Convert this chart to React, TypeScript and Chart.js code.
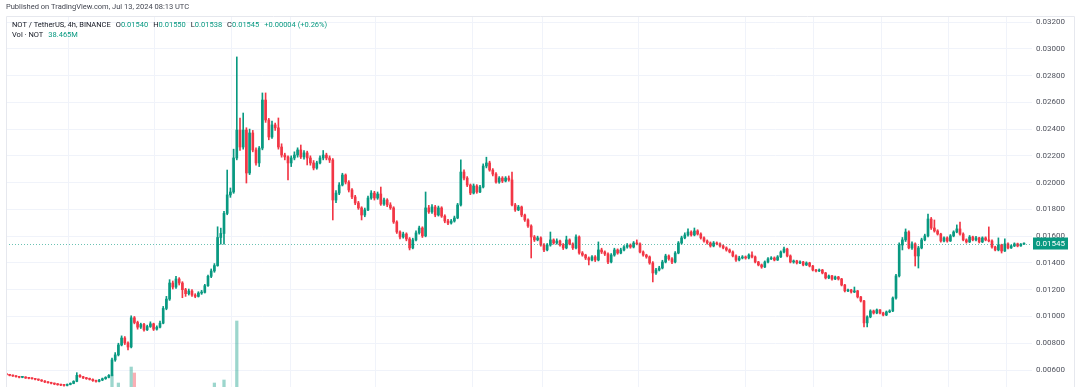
import React, { useEffect, useRef } from "react";
import { Chart, registerables } from "chart.js";
Chart.register(...registerables);

// ---- data (prices in units of 0.00001 USDT) ----
const PRICE_UNIT = 0.00001;
const firstOpen = 575;
const closes = [
  570,565,560,555,550,545,548,540,538,535,
  530,525,518,510,505,500,495,490,487,485,
  492,500,515,560,550,540,535,530,520,515,
  525,535,545,560,675,713,787,839,802,772,
  990,955,920,940,900,925,945,905,920,950,
  1060,1130,1250,1220,1280,1250,1200,1170,1190,1160,
  1150,1175,1180,1230,1300,1340,1380,1590,1620,1770,
  1908,1930,2184,2393,2266,2393,2072,2371,2244,2147,
  2258,2617,2468,2341,2431,2409,2266,2206,2192,2147,
  2184,2206,2244,2192,2222,2184,2147,2109,2147,2184,
  2206,2184,2169,1870,1922,1982,2057,2004,1945,1893,
  1848,1811,1758,1796,1885,1922,1885,1915,1840,1870,
  1833,1811,1706,1631,1594,1616,1579,1512,1572,1624,
  1661,1602,1811,1781,1818,1758,1811,1750,1713,1698,
  1713,1736,1833,2079,2034,1982,1922,1975,1930,1967,
  2124,2147,2094,2064,2004,2034,2012,2034,2020,1833,
  1796,1818,1758,1721,1676,1594,1572,1587,1534,1497,
  1534,1572,1549,1564,1534,1512,1572,1542,1512,1594,
  1474,1459,1437,1422,1445,1422,1497,1482,1467,1407,
  1459,1497,1474,1497,1519,1534,1519,1549,1542,1482,
  1459,1445,1400,1325,1347,1362,1407,1452,1430,1407,
  1474,1549,1587,1609,1631,1609,1639,1616,1587,1564,
  1549,1527,1549,1542,1527,1512,1497,1482,1452,1422,
  1437,1445,1437,1459,1445,1407,1385,1370,1407,1430,
  1437,1422,1445,1482,1504,1452,1407,1415,1400,1407,
  1385,1400,1377,1347,1340,1347,1325,1288,1303,1280,
  1295,1280,1235,1191,1198,1183,1191,1146,1116,952,
  997,1041,1026,1049,1026,1011,1034,1041,1138,1303,
  1534,1572,1631,1512,1542,1452,1512,1572,1602,1728,
  1661,1639,1616,1564,1587,1564,1602,1631,1654,1616,
  1572,1557,1594,1572,1587,1557,1587,1572,1564,1519,
  1497,1534,1489,1542,1512,1527,1542,1527,1540,1545,
];
const highs = [
  580,573,568,563,558,553,552,550,543,541,
  538,533,528,521,514,509,503,499,494,492,
  496,504,520,580,565,553,545,540,534,525,
  530,540,550,566,690,730,800,855,850,810,
  1005,1000,965,950,948,935,960,950,930,965,
  1075,1150,1275,1265,1300,1290,1260,1210,1205,1200,
  1170,1185,1195,1240,1310,1355,1395,1670,1660,1785,
  2094,1960,2250,2939,2483,2520,2410,2400,2390,2260,
  2270,2670,2670,2480,2460,2445,2483,2290,2220,2200,
  2200,2230,2260,2281,2240,2235,2200,2165,2160,2200,
  2240,2220,2200,2180,1940,2000,2070,2065,2015,1955,
  1905,1860,1820,1810,1900,1940,1935,1930,1967,1885,
  1880,1850,1820,1715,1640,1630,1625,1590,1585,1640,
  1675,1670,1930,1830,1835,1830,1825,1820,1760,1725,
  1725,1750,1845,2170,2095,2045,1990,1990,1985,1980,
  2140,2190,2160,2105,2075,2045,2045,2045,2050,2079,
  1845,1830,1825,1765,1730,1685,1605,1600,1595,1545,
  1545,1631,1580,1580,1570,1545,1600,1580,1550,1610,
  1602,1485,1465,1445,1455,1455,1557,1510,1490,1475,
  1470,1510,1505,1510,1530,1545,1542,1560,1572,1550,
  1490,1465,1452,1410,1360,1375,1420,1465,1460,1440,
  1485,1560,1600,1625,1654,1640,1661,1648,1625,1595,
  1572,1557,1560,1557,1550,1535,1520,1505,1490,1460,
  1450,1455,1452,1468,1482,1452,1412,1392,1415,1440,
  1447,1445,1455,1490,1519,1510,1460,1422,1420,1415,
  1412,1408,1405,1382,1352,1355,1352,1330,1310,1308,
  1302,1300,1285,1240,1205,1203,1220,1195,1150,1120,
  1005,1050,1048,1056,1052,1032,1041,1050,1146,1315,
  1550,1590,1654,1640,1557,1550,1525,1585,1615,1765,
  1740,1721,1648,1622,1595,1595,1612,1640,1684,1706,
  1625,1580,1605,1600,1598,1592,1595,1595,1669,1572,
  1525,1587,1540,1580,1550,1535,1550,1548,1545,1550,
];
const lows = [
  565,562,556,552,546,541,542,537,534,531,
  526,521,514,506,501,496,490,486,483,480,
  481,489,497,512,545,536,530,525,515,510,
  511,520,530,541,556,665,705,780,790,750,
  765,945,905,910,890,895,918,895,898,915,
  945,1050,1120,1205,1210,1235,1140,1150,1160,1150,
  1140,1145,1165,1175,1225,1290,1330,1375,1540,1540,
  1760,1890,1920,2170,2240,2250,1997,2060,2230,2130,
  2120,2245,2450,2320,2330,2390,2250,2190,2170,2020,
  2120,2170,2190,2180,2175,2132,2130,2095,2100,2140,
  2170,2170,2150,1721,1850,1910,1975,1990,1930,1880,
  1835,1800,1721,1745,1790,1875,1870,1875,1830,1830,
  1820,1800,1695,1620,1580,1585,1565,1497,1505,1565,
  1615,1590,1595,1770,1770,1745,1750,1740,1700,1685,
  1690,1705,1730,1825,2020,1970,1910,1915,1920,1925,
  1960,2110,2085,2050,1995,1995,2000,2005,2010,1825,
  1785,1790,1745,1710,1665,1437,1560,1565,1525,1485,
  1490,1525,1540,1540,1525,1500,1505,1535,1500,1505,
  1465,1450,1425,1385,1415,1410,1415,1470,1455,1395,
  1400,1450,1465,1468,1490,1510,1510,1512,1535,1475,
  1450,1435,1390,1258,1315,1340,1355,1400,1420,1395,
  1400,1468,1540,1580,1600,1600,1602,1608,1578,1555,
  1540,1518,1520,1535,1518,1505,1488,1475,1445,1412,
  1415,1430,1428,1430,1438,1400,1378,1360,1365,1400,
  1425,1415,1418,1440,1475,1445,1400,1398,1392,1395,
  1378,1380,1370,1340,1332,1335,1318,1280,1282,1272,
  1275,1272,1228,1183,1185,1175,1178,1138,1108,922,
  922,990,1018,1020,1019,1004,1006,1028,1036,1130,
  1295,1497,1560,1505,1500,1377,1362,1505,1565,1595,
  1650,1630,1608,1555,1557,1555,1560,1595,1625,1608,
  1565,1548,1552,1565,1565,1549,1552,1565,1557,1510,
  1490,1490,1474,1485,1505,1508,1522,1520,1524,1538,
];
// visible volume bars (candle index, volume in millions NOT)
const volIndex = [34, 36, 40, 41, 66, 69, 73];
const volValues = [1127, 909, 1345, 1182, 909, 991, 2600];

const priceTicks = [0.006, 0.008, 0.01, 0.012, 0.014, 0.016, 0.018, 0.02, 0.022, 0.024, 0.026, 0.028, 0.03, 0.032];
// day-boundary grid lines, in candle-index units
const timeGrid = [8.4, 32.1, 62.4, 80.25, 99, 133.7, 159.6, 177.4, 219.9, 244.3, 262.4, 286.5, 304.6];

const headerText = "Published on TradingView.com, Jul 13, 2024 08:13 UTC";
const symbolText = "NOT / TetherUS, 4h, BINANCE";
const ohlcLetters = ["O", "H", "L", "C"];
const ohlcValues = ["0.01540", "0.01550", "0.01538", "0.01545"];
const changeText = "+0.00004 (+0.26%)";
const volLabel = "Vol · NOT";
const volValueText = "38.465M";
const lastPrice = 0.01545;

const UP = "#089981";
const DN = "#f23645";
const VOL_UP = "rgba(8,153,129,0.4)";
const VOL_DN = "rgba(242,54,69,0.4)";
const GRID = "#f0f3fa";
const FONT = "Roboto, 'Noto Sans', sans-serif";

export default function App() {
  const ref = useRef<HTMLCanvasElement>(null);
  useEffect(() => {
    document.body.style.margin = "0";
    const U = PRICE_UNIT;
    const opens = closes.map((_, i) => (i === 0 ? firstOpen : closes[i - 1]));
    const up = (i: number) => closes[i] >= opens[i];
    const bodyData = closes.map((c, i) => ({ x: i, y: [opens[i] * U, c * U] }));
    const wickData = closes.map((_, i) => ({ x: i, y: [lows[i] * U, highs[i] * U] }));
    const volData = volIndex.map((idx, k) => ({ x: idx, y: volValues[k] }));

    const overlay = {
      id: "tvOverlay",
      beforeDraw(chart: any) {
        const { ctx, width, height } = chart;
        ctx.save();
        ctx.fillStyle = "#ffffff";
        ctx.fillRect(0, 0, width, height);
        ctx.restore();
      },
      afterDatasetsDraw(chart: any) {
        const { ctx, chartArea } = chart;
        const y = Math.round(chart.scales.y.getPixelForValue(lastPrice)) + 0.5;
        ctx.save();
        ctx.strokeStyle = "rgba(8,153,129,0.6)";
        ctx.lineWidth = 1;
        ctx.setLineDash([1, 2]);
        ctx.beginPath();
        ctx.moveTo(chartArea.left, y);
        ctx.lineTo(chartArea.right, y);
        ctx.stroke();
        ctx.restore();
      },
      afterDraw(chart: any) {
        const { ctx, chartArea } = chart;
        ctx.save();
        // frame
        ctx.strokeStyle = "#e6e8ee";
        ctx.lineWidth = 1;
        ctx.beginPath();
        ctx.moveTo(6.5, 387);
        ctx.lineTo(6.5, 16.5);
        ctx.lineTo(1074.5, 16.5);
        ctx.lineTo(1074.5, 387);
        ctx.stroke();
        // header
        ctx.textBaseline = "middle";
        ctx.textAlign = "left";
        ctx.font = `7.5px ${FONT}`;
        ctx.fillStyle = "#434651";
        ctx.fillText(headerText, 6, 7);
        // legend line 1
        let x = 12;
        const y1 = 25;
        ctx.fillStyle = "#131722";
        ctx.fillText(symbolText, x, y1);
        x += ctx.measureText(symbolText).width + 5;
        ohlcLetters.forEach((l, k) => {
          ctx.fillStyle = "#131722";
          ctx.fillText(l, x, y1);
          x += ctx.measureText(l).width;
          ctx.fillStyle = UP;
          ctx.fillText(ohlcValues[k], x, y1);
          x += ctx.measureText(ohlcValues[k]).width + 5;
        });
        ctx.fillStyle = UP;
        ctx.fillText(changeText, x, y1);
        // legend line 2
        const y2 = 35;
        ctx.fillStyle = "#131722";
        ctx.fillText(volLabel, 12, y2);
        ctx.fillStyle = UP;
        ctx.fillText(volValueText, 12 + ctx.measureText(volLabel).width + 5, y2);
        // last price label
        const py = chart.scales.y.getPixelForValue(lastPrice);
        ctx.fillStyle = UP;
        ctx.fillRect(chartArea.right + 1, py - 6, 35, 12);
        ctx.fillStyle = "#ffffff";
        ctx.font = `8px ${FONT}`;
        ctx.textAlign = "center";
        ctx.fillText(lastPrice.toFixed(5), chartArea.right + 18.5, py + 0.5);
        ctx.restore();
      },
    };

    const chart = new Chart(ref.current as HTMLCanvasElement, {
      type: "bar",
      data: {
        datasets: [
          {
            label: "vol",
            data: volData as any,
            yAxisID: "yv",
            backgroundColor: (c: any) => (up(volIndex[c.dataIndex]) ? VOL_UP : VOL_DN),
            barThickness: 2.6,
            grouped: false,
            order: 3,
          } as any,
          {
            label: "wick",
            data: wickData as any,
            yAxisID: "y",
            backgroundColor: (c: any) => (up(c.dataIndex) ? UP : DN),
            barThickness: 1,
            minBarLength: 1,
            grouped: false,
            order: 2,
          } as any,
          {
            label: "body",
            data: bodyData as any,
            yAxisID: "y",
            backgroundColor: (c: any) => (up(c.dataIndex) ? UP : DN),
            barThickness: 2,
            minBarLength: 1,
            grouped: false,
            order: 1,
          } as any,
        ],
      },
      options: {
        responsive: false,
        animation: false,
        devicePixelRatio: 1,
        events: [],
        layout: { padding: { left: 6, top: 17, right: 0, bottom: 0 } },
        plugins: { legend: { display: false }, tooltip: { enabled: false } },
        scales: {
          x: {
            type: "linear",
            min: 0.875,
            max: 321.5,
            offset: false,
            grid: { color: GRID, drawTicks: false },
            border: { display: false },
            ticks: { display: false },
            afterBuildTicks: (s: any) => {
              s.ticks = timeGrid.map((v) => ({ value: v }));
            },
            afterFit: (s: any) => {
              s.height = 0;
              s.paddingLeft = 0;
              s.paddingRight = 0;
              s.paddingTop = 0;
              s.paddingBottom = 0;
            },
          },
          y: {
            type: "linear",
            position: "right",
            min: 0.00473,
            max: 0.032374,
            grid: { color: GRID, drawTicks: false },
            border: { display: false },
            ticks: {
              color: "#50535e",
              font: { family: FONT, size: 8 },
              padding: 4,
              callback: (v: any) => Number(v).toFixed(5),
            },
            afterBuildTicks: (s: any) => {
              s.ticks = priceTicks.map((v) => ({ value: v }));
            },
            afterFit: (s: any) => {
              s.width = 48;
              s.paddingTop = 0;
              s.paddingBottom = 0;
              s.paddingLeft = 0;
              s.paddingRight = 0;
            },
          },
          yv: { type: "linear", display: false, min: 800, max: 10891 },
        },
      } as any,
      plugins: [overlay],
    });
    return () => chart.destroy();
  }, []);
  return (
    <div style={{ position: "absolute", left: 0, top: 0, width: 1080, height: 387, background: "#fff" }}>
      <canvas ref={ref} width={1080} height={387} style={{ display: "block" }} />
    </div>
  );
}
